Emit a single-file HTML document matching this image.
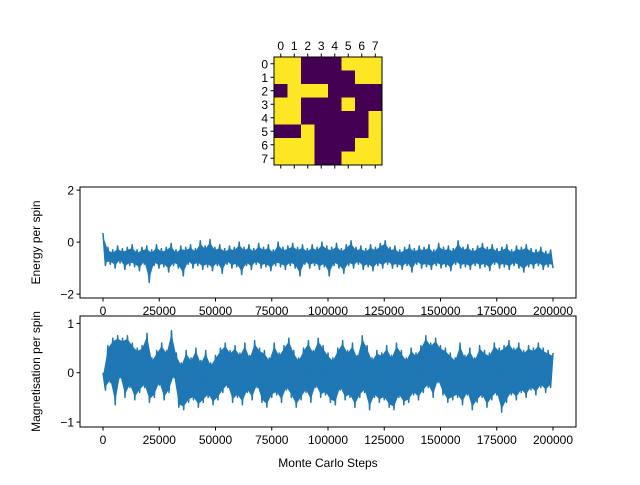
<!DOCTYPE html>
<html><head><meta charset="utf-8"><style>
body{margin:0;background:#fff;}
svg{font-family:"Liberation Sans","DejaVu Sans",sans-serif;}
</style></head><body>
<svg id="fig" width="640" height="480" viewBox="0 0 640 480">
<rect width="640" height="480" fill="#fff"/>
<g id="heat"></g>
<g id="ax1"></g>
<g id="ax2"></g>
</svg>
<script>
const lattice = [
 [1,1,0,0,0,1,1,1],
 [1,1,0,0,0,0,1,1],
 [0,1,1,1,0,0,0,0],
 [1,1,0,0,0,1,0,0],
 [1,1,0,0,0,0,0,1],
 [0,0,1,0,0,0,0,1],
 [1,1,1,0,0,0,1,1],
 [1,1,1,0,0,1,1,1]
];
const latticeTicks = [0,1,2,3,4,5,6,7];
const xTicks = [0,25000,50000,75000,100000,125000,150000,175000,200000];
const energyTicks = [-2,0,2];
const magTicks = [-1,0,1];
const stepMax = 200000;
// alternating local max / local min samples of the dense trace
const energy = [0.35,-0.9,-0.2,-0.85,-0.3,-1.0,-0.15,-0.8,-0.25,-1.05,-0.2,-0.9,-0.1,-0.95,-0.3,-1.1,-0.2,-0.85,-0.15,-1.55,-0.3,-0.9,-0.1,-1.0,-0.25,-0.95,-0.2,-1.15,-0.05,-0.9,-0.3,-1.0,-0.15,-1.3,-0.2,-0.85,-0.1,-1.0,-0.25,-0.9,0.05,-1.05,-0.15,-0.95,0.1,-1.1,-0.2,-0.9,-0.1,-1.2,-0.25,-0.85,-0.15,-1.0,-0.2,-0.95,0.0,-1.25,-0.2,-0.9,-0.1,-1.05,-0.25,-0.85,-0.05,-1.0,-0.2,-0.95,-0.1,-1.1,-0.3,-0.9,0.0,-0.95,-0.2,-1.05,-0.15,-0.9,-0.05,-1.0,-0.2,-1.3,-0.1,-0.85,-0.25,-1.0,-0.1,-0.9,-0.2,-1.05,0.0,-0.95,-0.15,-1.3,-0.2,-0.9,-0.05,-1.0,-0.25,-1.2,-0.1,-0.9,0.05,-1.0,-0.2,-0.85,-0.15,-1.05,-0.25,-0.95,-0.1,-1.1,-0.2,-0.9,-0.05,-1.0,0.05,-0.85,-0.2,-1.0,-0.15,-0.95,-0.3,-1.05,-0.2,-0.9,-0.1,-1.15,-0.25,-0.85,-0.15,-1.0,-0.2,-0.95,-0.1,-1.05,-0.3,-0.9,-0.05,-1.0,-0.2,-0.95,-0.15,-1.1,-0.25,-0.85,0.05,-1.0,-0.2,-0.95,-0.1,-1.05,-0.25,-0.9,-0.15,-1.0,-0.05,-0.95,-0.2,-1.1,-0.1,-0.85,-0.25,-1.0,-0.2,-0.95,-0.1,-1.05,-0.3,-0.9,-0.15,-1.0,-0.2,-1.15,-0.1,-0.95,-0.25,-1.0,-0.3,-0.9,-0.2,-1.05,-0.35,-0.95,-0.3,-1.0];
const magnetisation = [0.0,-0.35,0.55,-0.2,0.7,-0.65,0.75,-0.1,0.7,-0.5,0.75,-0.3,0.6,-0.55,0.5,-0.4,0.55,-0.3,0.8,-0.6,0.3,-0.5,0.45,-0.25,0.6,-0.55,0.45,-0.4,0.85,-0.1,0.4,-0.7,0.2,-0.75,0.45,-0.6,0.3,-0.55,0.5,-0.7,0.25,-0.6,0.45,-0.5,0.2,-0.65,0.35,-0.55,0.5,-0.4,0.6,-0.3,0.45,-0.6,0.55,-0.5,0.4,-0.65,0.6,-0.4,0.35,-0.55,0.65,-0.3,0.5,-0.6,0.45,-0.7,0.3,-0.5,0.6,-0.45,0.4,-0.6,0.55,-0.35,0.7,-0.5,0.45,-0.7,0.3,-0.55,0.5,-0.4,0.65,-0.6,0.45,-0.3,0.7,-0.5,0.55,-0.45,0.4,-0.6,0.3,-0.65,0.5,-0.35,0.65,-0.55,0.45,-0.5,0.6,-0.7,0.35,-0.5,0.75,-0.4,0.55,-0.75,0.3,-0.5,0.45,-0.6,0.4,-0.55,0.55,-0.7,0.35,-0.75,0.6,-0.5,0.45,-0.65,0.3,-0.6,0.5,-0.45,0.4,-0.55,0.55,-0.4,0.75,-0.3,0.6,-0.5,0.7,-0.2,0.55,-0.45,0.5,-0.6,0.4,-0.55,0.3,-0.5,0.6,-0.65,0.35,-0.45,0.5,-0.75,0.3,-0.6,0.55,-0.5,0.45,-0.7,0.4,-0.55,0.6,-0.45,0.5,-0.8,0.55,-0.6,0.65,-0.45,0.5,-0.55,0.6,-0.4,0.45,-0.5,0.55,-0.35,0.5,-0.45,0.6,-0.3,0.5,-0.4,0.45,-0.3,0.4];

const NS="http://www.w3.org/2000/svg";
function mk(p,tag,attrs){const e=document.createElementNS(NS,tag);for(const k in attrs)e.setAttribute(k,attrs[k]);p.appendChild(e);return e;}

const heat=document.getElementById('heat');
const hx0=274,hy0=57,cs=13.5;
lattice.forEach((row,r)=>row.forEach((v,c)=>{
  const el=mk(heat,'rect',{x:hx0+c*cs,y:hy0+r*cs,width:cs+0.3,height:cs+0.3,fill:v?'#fde725':'#440154'});
  
  
}));
mk(heat,'rect',{x:hx0,y:hy0,width:cs*8,height:cs*8,fill:'none',stroke:'#000','stroke-width':1});
latticeTicks.forEach(t=>{
  const cx=hx0+(t+0.5)*cs, cy=hy0+(t+0.5)*cs;
  mk(heat,'line',{x1:cx,y1:hy0,x2:cx,y2:hy0-3.5,stroke:'#000'});
  mk(heat,'line',{x1:cx,y1:hy0+cs*8,x2:cx,y2:hy0+cs*8+3.5,stroke:'#000'});
  mk(heat,'line',{x1:hx0,y1:cy,x2:hx0-3.5,y2:cy,stroke:'#000'});
  const tx=mk(heat,'text',{x:cx,y:hy0-7,'font-size':12,'text-anchor':'middle'});tx.textContent=t;
  
  
  const ty=mk(heat,'text',{x:hx0-6,y:cy+4.5,'font-size':12,'text-anchor':'end'});ty.textContent=t;
  
  
});

function drawAxes(g,top,bottom,ymin,ymax,yticks,data,ylabel,yname){
  const L=80,R=576;
  const xs=v=>103+(v/stepMax)*450;
  const ys=v=>bottom-(v-ymin)/(ymax-ymin)*(bottom-top);
  const px=i=>xs(i/(data.length-1)*stepMax);
  // filled band between successive max/min samples
  let up='',lo='';
  const ups=[],los=[];
  data.forEach((v,i)=>{(i%2===0?ups:los).push([px(i),ys(v)]);});
  let band='M'+ups.map(p=>p[0].toFixed(2)+' '+(p[1]+3).toFixed(2)).join('L')+
           'L'+los.slice().reverse().map(p=>p[0].toFixed(2)+' '+(p[1]-3).toFixed(2)).join('L')+'Z';
  const b=mk(g,'path',{d:band,fill:'#1f77b4',stroke:'none'});
  
  
  let d='';
  data.forEach((v,i)=>{d+=(i?'L':'M')+px(i).toFixed(2)+' '+ys(v).toFixed(2);});
  const p=mk(g,'path',{d:d,fill:'none',stroke:'#1f77b4','stroke-width':1.5,'stroke-linejoin':'round'});
  
  
  mk(g,'rect',{x:L,y:top,width:R-L,height:bottom-top,fill:'none',stroke:'#000','stroke-width':1});
  xTicks.forEach(t=>{const x=xs(t);mk(g,'line',{x1:x,y1:bottom,x2:x,y2:bottom+3.5,stroke:'#000'});
    const tx=mk(g,'text',{x:x,y:bottom+17,'font-size':12,'text-anchor':'middle'});tx.textContent=t;
    
    });
  yticks.forEach(t=>{const y=ys(t);mk(g,'line',{x1:L,y1:y,x2:L-3.5,y2:y,stroke:'#000'});
    const tx=mk(g,'text',{x:L-6,y:y+4.5,'font-size':12,'text-anchor':'end'});tx.textContent=(t<0?'\u2212':'')+Math.abs(t);
    
    });
  const yl=mk(g,'text',{x:0,y:0,'font-size':12,'text-anchor':'middle',transform:`translate(40,${(top+bottom)/2}) rotate(-90)`});
  yl.textContent=ylabel;
  
  
}
drawAxes(document.getElementById('ax1'),187,298,-2.15,2.12,energyTicks,energy,'Energy per spin','energy');
drawAxes(document.getElementById('ax2'),316,427,-1.1,1.15,magTicks,magnetisation,'Magnetisation per spin','magnetisation');
const xl=mk(document.getElementById('ax2'),'text',{x:328,y:467,'font-size':12,'text-anchor':'middle'});
xl.textContent='Monte Carlo Steps';


</script>
</body></html>
